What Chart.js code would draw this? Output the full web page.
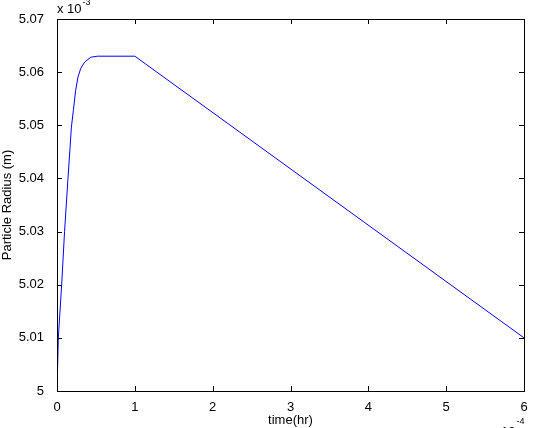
<!DOCTYPE html>
<html>
<head>
<meta charset="utf-8">
<script src="https://cdn.jsdelivr.net/npm/chart.js@4.4.1/dist/chart.umd.min.js"></script>
<style>
  body { margin: 0; background: #fff; }
</style>
</head>
<body>
<canvas id="myChart" width="536" height="428"></canvas>
<script>
// time in units of 1e-4 hr, radius in units of 1e-3 m
const timeValues = [0, 0.017, 0.06, 0.097, 0.141, 0.167, 0.184, 0.21, 0.24, 0.27, 0.305, 0.356, 0.433, 0.52, 1.0, 6.0];
const radiusValues = [5.000, 5.010, 5.020, 5.030, 5.040, 5.0456, 5.0495, 5.0528, 5.0566, 5.0591, 5.0607, 5.0619, 5.0628, 5.063, 5.063, 5.010];
const xTicks = [0, 1, 2, 3, 4, 5, 6];
const yTicks = [5, 5.01, 5.02, 5.03, 5.04, 5.05, 5.06, 5.07];
const xTitle = "time(hr)";
const yTitle = "Particle Radius (m)";
const xExponent = "-4";
const yExponent = "-3";

const fontFamily = "'Liberation Sans', Arial, Helvetica, sans-serif";
const ctx = document.getElementById("myChart").getContext("2d");

// matlab-style box with inward ticks and the "x 10^n" multipliers
const matlabAxes = {
    id: "matlabAxes",
    afterDraw(chart) {
        const c = chart.ctx;
        const area = chart.chartArea;
        const xs = chart.scales.x;
        const ys = chart.scales.y;
        const len = 5;
        c.save();
        c.strokeStyle = "#000";
        c.lineWidth = 1;
        c.beginPath();
        xTicks.forEach(v => {
            const px = Math.round(xs.getPixelForValue(v)) + 0.5;
            c.moveTo(px, area.bottom); c.lineTo(px, area.bottom - len);
            c.moveTo(px, area.top); c.lineTo(px, area.top + len);
        });
        yTicks.forEach(v => {
            const py = Math.round(ys.getPixelForValue(v)) + 0.5;
            c.moveTo(area.left, py); c.lineTo(area.left + len, py);
            c.moveTo(area.right, py); c.lineTo(area.right - len, py);
        });
        c.stroke();
        c.strokeRect(Math.round(area.left) + 0.5, Math.round(area.top) + 0.5,
            Math.round(area.right - area.left), Math.round(area.bottom - area.top));

        c.fillStyle = "#000";
        c.textBaseline = "alphabetic";
        c.textAlign = "left";
        c.font = "13px " + fontFamily;
        c.fillText("x 10", area.left, 13);
        let w = c.measureText("x 10").width;
        c.font = "9px " + fontFamily;
        c.fillText(yExponent, area.left + w + 1, 5);

        c.font = "13px " + fontFamily;
        c.fillText("x 10", 491, 436);
        w = c.measureText("x 10").width;
        c.font = "9px " + fontFamily;
        c.fillText(xExponent, 491 + w + 1, 424);
        c.restore();
    }
};

const chart = new Chart(ctx, {
    type: "scatter",
    data: {
        datasets: [{
            data: timeValues.map((t, i) => ({ x: t, y: radiusValues[i] })),
            showLine: true,
            borderColor: "#0000FF",
            borderWidth: 1,
            pointRadius: 0,
            fill: false,
            tension: 0
        }]
    },
    options: {
        responsive: false,
        animation: false,
        devicePixelRatio: 1,
        layout: { padding: { top: 19, right: 12, left: 0, bottom: 0 } },
        plugins: {
            legend: { display: false },
            tooltip: { enabled: false }
        },
        scales: {
            x: {
                type: "linear",
                min: 0,
                max: 6,
                afterBuildTicks: s => { s.ticks = xTicks.map(v => ({ value: v })); },
                afterFit: s => { s.height = 37; },
                grid: { display: false },
                border: { display: false },
                ticks: {
                    color: "#000",
                    padding: 1,
                    maxRotation: 0,
                    font: { family: fontFamily, size: 13 },
                    callback: v => String(v)
                },
                title: {
                    display: true,
                    text: xTitle,
                    color: "#000",
                    padding: 0,
                    font: { family: fontFamily, size: 13 }
                }
            },
            y: {
                type: "linear",
                min: 5,
                max: 5.07,
                afterBuildTicks: s => { s.ticks = yTicks.map(v => ({ value: v })); },
                afterFit: s => { s.width = 57; },
                grid: { display: false },
                border: { display: false },
                ticks: {
                    color: "#000",
                    padding: 5,
                    font: { family: fontFamily, size: 13 },
                    callback: v => String(Number(v.toFixed(2)))
                },
                title: {
                    display: true,
                    text: yTitle,
                    color: "#000",
                    padding: 0,
                    font: { family: fontFamily, size: 13 }
                }
            }
        }
    },
    plugins: [matlabAxes]
});
</script>
</body>
</html>
